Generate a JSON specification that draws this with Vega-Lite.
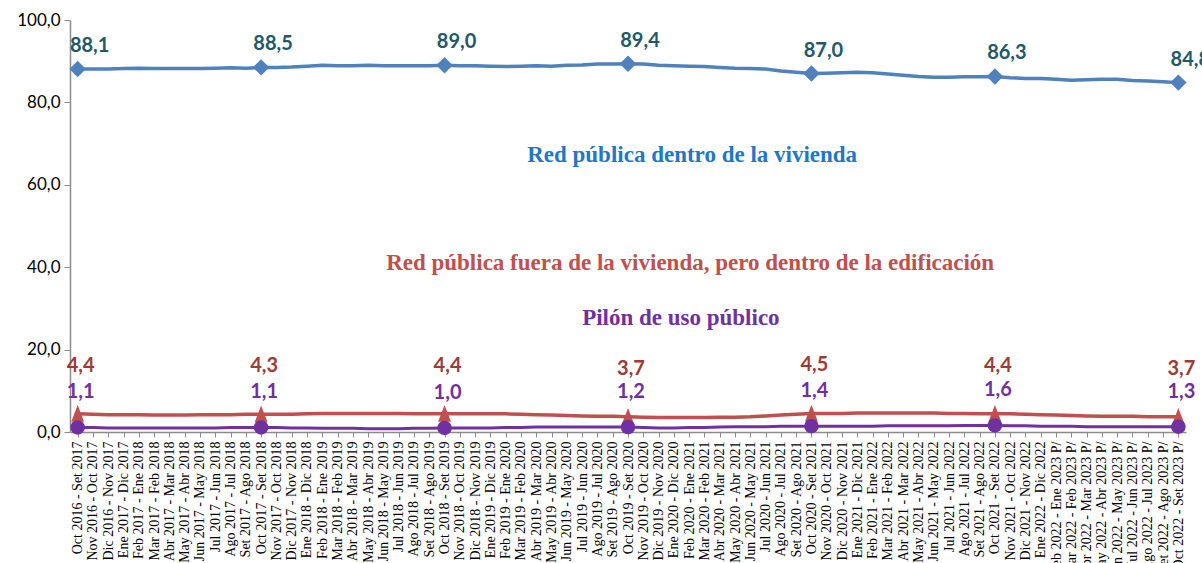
{
  "$schema": "https://vega.github.io/schema/vega-lite/v6.json",
  "width": 1116,
  "height": 412,
  "autosize": {"type": "none"},
  "padding": {"left": 70, "top": 20, "right": 16, "bottom": 131},
  "background": "white",
  "config": {
    "locale": {"number": {"decimal": ",", "thousands": ".", "grouping": [3], "currency": ["", " €"]}},
    "view": {"stroke": null}
  },
  "data": {
    "values": [
      {"p": "Oct 2016 - Set 2017", "a": 88.1, "b": 4.4, "c": 1.1},
      {"p": "Nov 2016 - Oct 2017", "a": 88.1, "b": 4.3, "c": 1.1},
      {"p": "Dic 2016 - Nov 2017", "a": 88.1, "b": 4.2, "c": 1.0},
      {"p": "Ene 2017 - Dic 2017", "a": 88.2, "b": 4.2, "c": 1.0},
      {"p": "Feb 2017 - Ene 2018", "a": 88.3, "b": 4.2, "c": 1.0},
      {"p": "Mar 2017 - Feb 2018", "a": 88.2, "b": 4.1, "c": 1.0},
      {"p": "Abr 2017 - Mar 2018", "a": 88.2, "b": 4.1, "c": 1.0},
      {"p": "May 2017 - Abr 2018", "a": 88.2, "b": 4.1, "c": 1.0},
      {"p": "Jun 2017 - May 2018", "a": 88.2, "b": 4.2, "c": 1.0},
      {"p": "Jul 2017 - Jun 2018", "a": 88.3, "b": 4.2, "c": 1.0},
      {"p": "Ago 2017 - Jul 2018", "a": 88.4, "b": 4.2, "c": 1.1},
      {"p": "Set 2017 - Ago 2018", "a": 88.3, "b": 4.3, "c": 1.1},
      {"p": "Oct 2017 - Set 2018", "a": 88.5, "b": 4.3, "c": 1.1},
      {"p": "Nov 2017 - Oct 2018", "a": 88.5, "b": 4.3, "c": 1.1},
      {"p": "Dic 2017 - Nov 2018", "a": 88.6, "b": 4.3, "c": 1.0},
      {"p": "Ene 2018 - Dic 2018", "a": 88.8, "b": 4.4, "c": 1.0},
      {"p": "Feb 2018 - Ene 2019", "a": 89.0, "b": 4.5, "c": 0.9},
      {"p": "Mar 2018 - Feb 2019", "a": 88.9, "b": 4.5, "c": 0.9},
      {"p": "Abr 2018 - Mar 2019", "a": 88.9, "b": 4.5, "c": 0.9},
      {"p": "May 2018 - Abr 2019", "a": 89.0, "b": 4.5, "c": 0.8},
      {"p": "Jun 2018 - May 2019", "a": 88.9, "b": 4.5, "c": 0.8},
      {"p": "Jul 2018 - Jun 2019", "a": 88.9, "b": 4.5, "c": 0.8},
      {"p": "Ago 2018 - Jul 2019", "a": 88.9, "b": 4.4, "c": 0.9},
      {"p": "Set 2018 - Ago 2019", "a": 88.9, "b": 4.4, "c": 0.9},
      {"p": "Oct 2018 - Set 2019", "a": 89.0, "b": 4.4, "c": 1.0},
      {"p": "Nov 2018 - Oct 2019", "a": 88.9, "b": 4.4, "c": 1.0},
      {"p": "Dic 2018 - Nov 2019", "a": 88.9, "b": 4.4, "c": 1.0},
      {"p": "Ene 2019 - Dic 2019", "a": 88.8, "b": 4.4, "c": 1.0},
      {"p": "Feb 2019 - Ene 2020", "a": 88.7, "b": 4.4, "c": 1.1},
      {"p": "Mar 2019 - Feb 2020", "a": 88.8, "b": 4.3, "c": 1.1},
      {"p": "Abr 2019 - Mar 2020", "a": 88.9, "b": 4.2, "c": 1.2},
      {"p": "May 2019 - Abr 2020", "a": 88.8, "b": 4.1, "c": 1.2},
      {"p": "Jun 2019 - May 2020", "a": 89.0, "b": 4.0, "c": 1.2},
      {"p": "Jul 2019 - Jun 2020", "a": 89.1, "b": 3.9, "c": 1.2},
      {"p": "Ago 2019 - Jul 2020", "a": 89.3, "b": 3.8, "c": 1.2},
      {"p": "Set 2019 - Ago 2020", "a": 89.3, "b": 3.8, "c": 1.2},
      {"p": "Oct 2019 - Set 2020", "a": 89.4, "b": 3.7, "c": 1.2},
      {"p": "Nov 2019 - Oct 2020", "a": 89.3, "b": 3.6, "c": 1.1},
      {"p": "Dic 2019 - Nov 2020", "a": 89.0, "b": 3.5, "c": 1.0},
      {"p": "Ene 2020 - Dic 2020", "a": 88.9, "b": 3.5, "c": 1.0},
      {"p": "Feb 2020 - Ene 2021", "a": 88.8, "b": 3.5, "c": 1.1},
      {"p": "Mar 2020 - Feb 2021", "a": 88.7, "b": 3.5, "c": 1.1},
      {"p": "Abr 2020 - Mar 2021", "a": 88.5, "b": 3.6, "c": 1.2},
      {"p": "May 2020 - Abr 2021", "a": 88.3, "b": 3.6, "c": 1.3},
      {"p": "Jun 2020 - May 2021", "a": 88.2, "b": 3.7, "c": 1.3},
      {"p": "Jul 2020 - Jun 2021", "a": 88.1, "b": 3.9, "c": 1.3},
      {"p": "Ago 2020 - Jul 2021", "a": 87.6, "b": 4.1, "c": 1.4},
      {"p": "Set 2020 - Ago 2021", "a": 87.3, "b": 4.3, "c": 1.4},
      {"p": "Oct 2020 - Set 2021", "a": 87.0, "b": 4.5, "c": 1.4},
      {"p": "Nov 2020 - Oct 2021", "a": 87.1, "b": 4.5, "c": 1.4},
      {"p": "Dic 2020 - Nov 2021", "a": 87.2, "b": 4.5, "c": 1.4},
      {"p": "Ene 2021 - Dic 2021", "a": 87.3, "b": 4.6, "c": 1.4},
      {"p": "Feb 2021 - Ene 2022", "a": 87.2, "b": 4.6, "c": 1.4},
      {"p": "Mar 2021 - Feb 2022", "a": 86.9, "b": 4.6, "c": 1.5},
      {"p": "Abr 2021 - Mar 2022", "a": 86.6, "b": 4.6, "c": 1.5},
      {"p": "May 2021 - Abr 2022", "a": 86.3, "b": 4.6, "c": 1.5},
      {"p": "Jun 2021 - May 2022", "a": 86.1, "b": 4.6, "c": 1.5},
      {"p": "Jul 2021 - Jun 2022", "a": 86.1, "b": 4.5, "c": 1.5},
      {"p": "Ago 2021 - Jul 2022", "a": 86.2, "b": 4.5, "c": 1.6},
      {"p": "Set 2021 - Ago 2022", "a": 86.2, "b": 4.4, "c": 1.6},
      {"p": "Oct 2021 - Set 2022", "a": 86.3, "b": 4.4, "c": 1.6},
      {"p": "Nov 2021 - Oct 2022", "a": 86.0, "b": 4.4, "c": 1.5},
      {"p": "Dic 2021 - Nov 2022", "a": 85.8, "b": 4.3, "c": 1.5},
      {"p": "Ene 2022 - Dic 2022", "a": 85.8, "b": 4.2, "c": 1.4},
      {"p": "Feb 2022 - Ene 2023 P/", "a": 85.6, "b": 4.1, "c": 1.4},
      {"p": "Mar 2022 - Feb 2023 P/", "a": 85.4, "b": 4.0, "c": 1.4},
      {"p": "Abr 2022 - Mar 2023 P/", "a": 85.5, "b": 3.9, "c": 1.3},
      {"p": "May 2022 - Abr 2023 P/", "a": 85.6, "b": 3.8, "c": 1.3},
      {"p": "Jun 2022 - May 2023 P/", "a": 85.6, "b": 3.8, "c": 1.3},
      {"p": "Jul 2022 - Jun 2023 P/", "a": 85.3, "b": 3.8, "c": 1.3},
      {"p": "Ago 2022 - Jul 2023 P/", "a": 85.2, "b": 3.7, "c": 1.3},
      {"p": "Set 2022 - Ago 2023 P/", "a": 85.0, "b": 3.7, "c": 1.3},
      {"p": "Oct 2022 - Set 2023 P/", "a": 84.8, "b": 3.7, "c": 1.3}
    ]
  },
  "encoding": {
    "x": {
      "field": "p",
      "type": "ordinal",
      "sort": null,
      "scale": {"type": "point", "padding": 0.5},
      "axis": {
        "title": null,
        "labelAngle": -90,
        "labelFont": "Liberation Serif, Times New Roman, serif",
        "labelFontSize": 14,
        "labelColor": "#000000",
        "labelPadding": 4,
        "labelOverlap": false,
        "labelLimit": 300,
        "domainColor": "#8C8C8C",
        "domainWidth": 1.5,
        "tickColor": "#8C8C8C",
        "tickSize": 5,
        "grid": false
      }
    }
  },
  "layer": [
    {
      "mark": {"type": "line", "color": "#4F81BD", "strokeWidth": 3.5},
      "encoding": {
        "y": {
          "field": "a",
          "type": "quantitative",
          "scale": {"domain": [0, 100], "nice": false, "zero": true},
          "axis": {
            "title": null,
            "values": [0, 20, 40, 60, 80, 100],
            "format": ".1f",
            "labelFont": "Lato",
            "labelFontSize": 17,
            "labelColor": "#000000",
            "labelPadding": 4,
            "domainColor": "#8C8C8C",
            "domainWidth": 1.5,
            "tickColor": "#8C8C8C",
            "tickSize": 6,
            "grid": false
          }
        }
      }
    },
    {
      "mark": {"type": "line", "color": "#C0504D", "strokeWidth": 3.5},
      "encoding": {"y": {"field": "b", "type": "quantitative", "title": null}}
    },
    {
      "mark": {"type": "line", "color": "#7030A0", "strokeWidth": 3},
      "encoding": {"y": {"field": "c", "type": "quantitative", "title": null}}
    },
    {
      "transform": [{"filter": "indexof(datum.p, 'Oct') === 0"}],
      "mark": {"type": "point", "shape": "diamond", "filled": true, "opacity": 1, "size": 270, "color": "#4F81BD"},
      "encoding": {"y": {"field": "a", "type": "quantitative", "title": null}}
    },
    {
      "transform": [{"filter": "indexof(datum.p, 'Oct') === 0"}],
      "mark": {"type": "point", "shape": "M0,-1.1L-0.8,1L0.8,1Z", "filled": true, "opacity": 1, "size": 256, "color": "#C0504D"},
      "encoding": {"y": {"field": "b", "type": "quantitative", "title": null}}
    },
    {
      "transform": [{"filter": "indexof(datum.p, 'Oct') === 0"}],
      "mark": {"type": "point", "shape": "circle", "filled": true, "opacity": 1, "size": 210, "color": "#7030A0"},
      "encoding": {"y": {"field": "c", "type": "quantitative", "title": null}}
    },
    {
      "transform": [{"filter": "indexof(datum.p, 'Oct') === 0"}],
      "mark": {"type": "text", "dx": 12, "dy": -23, "font": "Lato", "fontWeight": "bold", "fontSize": 20, "color": "#215968"},
      "encoding": {
        "y": {"field": "a", "type": "quantitative", "title": null},
        "text": {"field": "a", "type": "quantitative", "format": ".1f"}
      }
    },
    {
      "transform": [{"filter": "indexof(datum.p, 'Oct') === 0"}],
      "mark": {"type": "text", "dx": 3, "dy": -48, "font": "Lato", "fontWeight": "bold", "fontSize": 20, "color": "#A03A37"},
      "encoding": {
        "y": {"field": "b", "type": "quantitative", "title": null},
        "text": {"field": "b", "type": "quantitative", "format": ".1f"}
      }
    },
    {
      "transform": [{"filter": "indexof(datum.p, 'Oct') === 0"}],
      "mark": {"type": "text", "dx": 3, "dy": -35, "font": "Lato", "fontWeight": "bold", "fontSize": 20, "color": "#7030A0"},
      "encoding": {
        "y": {"field": "c", "type": "quantitative", "title": null},
        "text": {"field": "c", "type": "quantitative", "format": ".1f"}
      }
    },
    {
      "transform": [{"filter": "datum.p === 'Feb 2020 - Ene 2021'"}],
      "mark": {"type": "text", "text": "Red pública dentro de la vivienda", "font": "Liberation Serif, Times New Roman, serif", "fontWeight": "bold", "fontSize": 23, "color": "#1F77C8", "dx": 3},
      "encoding": {"y": {"datum": 67.2, "type": "quantitative"}}
    },
    {
      "transform": [{"filter": "datum.p === 'Feb 2020 - Ene 2021'"}],
      "mark": {"type": "text", "text": "Red pública fuera de la vivienda, pero dentro de la edificación", "font": "Liberation Serif, Times New Roman, serif", "fontWeight": "bold", "fontSize": 23, "color": "#C0504D", "dx": 1},
      "encoding": {"y": {"datum": 41.0, "type": "quantitative"}}
    },
    {
      "transform": [{"filter": "datum.p === 'Ene 2020 - Dic 2020'"}],
      "mark": {"type": "text", "text": "Pilón de uso público", "font": "Liberation Serif, Times New Roman, serif", "fontWeight": "bold", "fontSize": 23, "color": "#7030A0", "dx": 7},
      "encoding": {"y": {"datum": 27.6, "type": "quantitative"}}
    }
  ]
}
